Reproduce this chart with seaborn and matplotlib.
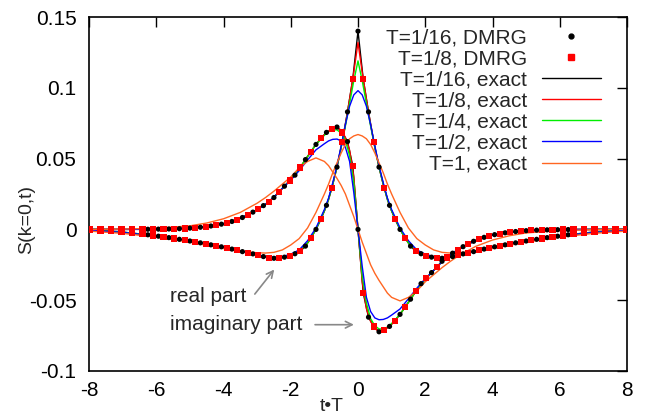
import numpy as np
import seaborn as sns
import matplotlib.pyplot as plt
from matplotlib.lines import Line2D

# low temperature curve (T=1/16), read on a grid of step 0.15625 in t*T
t_fine = np.arange(-51, 52) * 0.15625
re_fine = [-0.0005, -0.0007, -0.0009, -0.0011, -0.0013, -0.0016, -0.0019, -0.0022, -0.0026, -0.0030,
           -0.0034, -0.0038, -0.0043, -0.0048, -0.0053, -0.0058, -0.0064, -0.0070, -0.0076, -0.0082,
           -0.0088, -0.0095, -0.0102, -0.0109, -0.0116, -0.0123, -0.0131, -0.0139, -0.0148, -0.0157,
           -0.0165, -0.0173, -0.0182, -0.0192, -0.0200, -0.0204, -0.0202, -0.0196, -0.0186, -0.0172,
           -0.0155, -0.0118, -0.0063, 0.0, 0.0075, 0.017, 0.029, 0.044, 0.062, 0.083, 0.106,
           0.140,
           0.106, 0.083, 0.062, 0.044, 0.029, 0.017, 0.0075, 0.0, -0.0063, -0.0118,
           -0.0155, -0.0172, -0.0186, -0.0196, -0.0202, -0.0204, -0.0200, -0.0192, -0.0182, -0.0173,
           -0.0165, -0.0157, -0.0148, -0.0139, -0.0131, -0.0123, -0.0116, -0.0109, -0.0102, -0.0095,
           -0.0088, -0.0082, -0.0076, -0.0070, -0.0064, -0.0058, -0.0053, -0.0048, -0.0043, -0.0038,
           -0.0034, -0.0030, -0.0026, -0.0022, -0.0019, -0.0016, -0.0013, -0.0011, -0.0009, -0.0007, -0.0005]
im_fine = [0.0, 0.0, 0.0, 0.0, 0.0, 0.0, 0.0, 0.0, 0.0, 0.0,
           0.0, 0.0001, 0.0001, 0.0002, 0.0002, 0.0003, 0.0004, 0.0005, 0.0007, 0.0009,
           0.0012, 0.0015, 0.0019, 0.0024, 0.0030, 0.0037, 0.0046, 0.0056, 0.0068, 0.0084,
           0.0101, 0.0122, 0.0145, 0.0168, 0.0195, 0.0225, 0.0265, 0.0305, 0.0345, 0.0383,
           0.0437, 0.0493, 0.0547, 0.0600, 0.0645, 0.0685, 0.0708, 0.0723, 0.0685, 0.062, 0.045,
           0.0,
           -0.045, -0.062, -0.0685, -0.0723, -0.0708, -0.0685, -0.0645, -0.0600, -0.0547, -0.0493,
           -0.0437, -0.0383, -0.0345, -0.0305, -0.0265, -0.0225, -0.0195, -0.0168, -0.0145, -0.0122,
           -0.0101, -0.0084, -0.0068, -0.0056, -0.0046, -0.0037, -0.0030, -0.0024, -0.0019, -0.0015,
           -0.0012, -0.0009, -0.0007, -0.0005, -0.0004, -0.0003, -0.0002, -0.0002, -0.0001, -0.0001,
           0.0, 0.0, 0.0, 0.0, 0.0, 0.0, 0.0, 0.0, 0.0, 0.0, 0.0]

# exact curves for the higher temperatures
t_ex = [-8, -7, -6, -5, -4.5, -4, -3.5, -3, -2.75, -2.5, -2.25, -2, -1.75, -1.5, -1.25, -1,
        -0.875, -0.75, -0.625, -0.5, -0.375, -0.25, -0.125, 0, 0.125, 0.25, 0.375, 0.5, 0.625,
        0.75, 0.875, 1, 1.25, 1.5, 1.75, 2, 2.25, 2.5, 2.75, 3, 3.5, 4, 4.5, 5, 6, 7, 8]

re_8 = [-0.0005, -0.0020, -0.0046, -0.0082, -0.0103, -0.0126, -0.0153, -0.0180, -0.0195, -0.0204,
        -0.0198, -0.0183, -0.0158, -0.0096, 0.000, 0.013, 0.021, 0.032, 0.044, 0.058, 0.074, 0.092, 0.111,
        0.132,
        0.111, 0.092, 0.074, 0.058, 0.044, 0.032, 0.021, 0.013, 0.000, -0.0096, -0.0158, -0.0183,
        -0.0198, -0.0204, -0.0195, -0.0180, -0.0153, -0.0126, -0.0103, -0.0082, -0.0046, -0.0020, -0.0005]
im_8 = [0.0, 0.0, 0.0002, 0.0009, 0.0020, 0.0041, 0.0078, 0.0138, 0.0178, 0.0228, 0.029, 0.0352,
        0.0427, 0.0515, 0.060, 0.067, 0.0695, 0.0712, 0.0722, 0.070, 0.065, 0.056, 0.037,
        0.0,
        -0.037, -0.056, -0.065, -0.070, -0.0722, -0.0712, -0.0695, -0.067, -0.060, -0.0515, -0.0427,
        -0.0352, -0.029, -0.0228, -0.0178, -0.0138, -0.0078, -0.0041, -0.0020, -0.0009, -0.0002, 0.0, 0.0]

re_4 = [-0.0005, -0.0020, -0.0046, -0.0082, -0.0103, -0.0126, -0.0153, -0.0180, -0.0195, -0.0203,
        -0.0198, -0.0183, -0.0158, -0.0096, 0.000, 0.013, 0.021, 0.032, 0.044, 0.058, 0.073, 0.089, 0.105,
        0.119,
        0.105, 0.089, 0.073, 0.058, 0.044, 0.032, 0.021, 0.013, 0.000, -0.0096, -0.0158, -0.0183,
        -0.0198, -0.0203, -0.0195, -0.0180, -0.0153, -0.0126, -0.0103, -0.0082, -0.0046, -0.0020, -0.0005]
im_4 = [0.0, 0.0, 0.0002, 0.0009, 0.0020, 0.0041, 0.0078, 0.0138, 0.0178, 0.0228, 0.029, 0.0352,
        0.0427, 0.0515, 0.060, 0.0665, 0.069, 0.0703, 0.0703, 0.068, 0.063, 0.052, 0.033,
        0.0,
        -0.033, -0.052, -0.063, -0.068, -0.0703, -0.0703, -0.069, -0.0665, -0.060, -0.0515, -0.0427,
        -0.0352, -0.029, -0.0228, -0.0178, -0.0138, -0.0078, -0.0041, -0.0020, -0.0009, -0.0002, 0.0, 0.0]

re_2 = [-0.0006, -0.0021, -0.0047, -0.0083, -0.0104, -0.0127, -0.0154, -0.0180, -0.0192, -0.0197,
        -0.0192, -0.0175, -0.0145, -0.008, 0.001, 0.014, 0.022, 0.033, 0.045, 0.059, 0.074, 0.087, 0.095,
        0.098,
        0.095, 0.087, 0.074, 0.059, 0.045, 0.033, 0.022, 0.014, 0.001, -0.008, -0.0145, -0.0175,
        -0.0192, -0.0197, -0.0192, -0.0180, -0.0154, -0.0127, -0.0104, -0.0083, -0.0047, -0.0021, -0.0006]
im_2 = [0.0, 0.0, 0.0002, 0.0009, 0.0020, 0.0041, 0.0078, 0.0138, 0.0178, 0.0228, 0.029, 0.0348,
        0.0415, 0.049, 0.0562, 0.0605, 0.0625, 0.0636, 0.0638, 0.0625, 0.058, 0.048, 0.026,
        0.0,
        -0.026, -0.048, -0.058, -0.0625, -0.0638, -0.0636, -0.0625, -0.0605, -0.0562, -0.049, -0.0415,
        -0.0348, -0.029, -0.0228, -0.0178, -0.0138, -0.0078, -0.0041, -0.0020, -0.0009, -0.0002, 0.0, 0.0]

re_1 = [-0.0012, -0.0028, -0.0055, -0.0090, -0.0112, -0.0135, -0.0155, -0.0165, -0.0167, -0.0162,
        -0.0145, -0.011, -0.0065, 0.001, 0.012, 0.025, 0.032, 0.040, 0.047, 0.054, 0.060, 0.064, 0.066,
        0.067,
        0.066, 0.064, 0.060, 0.054, 0.047, 0.040, 0.032, 0.025, 0.012, 0.001, -0.0065, -0.011,
        -0.0145, -0.0162, -0.0167, -0.0165, -0.0155, -0.0135, -0.0112, -0.0090, -0.0055, -0.0028, -0.0012]
im_1 = [0.0, 0.0002, 0.0008, 0.0025, 0.0045, 0.0075, 0.012, 0.0185, 0.0225, 0.027, 0.032, 0.037,
        0.0435, 0.048, 0.0505, 0.048, 0.045, 0.0405, 0.036, 0.031, 0.025, 0.017, 0.009,
        0.0,
        -0.009, -0.017, -0.025, -0.031, -0.036, -0.0405, -0.045, -0.048, -0.0505, -0.048, -0.0435,
        -0.037, -0.032, -0.027, -0.0225, -0.0185, -0.012, -0.0075, -0.0045, -0.0025, -0.0008, -0.0002, 0.0]

labels = ["T=1/16, DMRG", "T=1/8, DMRG", "T=1/16, exact", "T=1/8, exact",
          "T=1/4, exact", "T=1/2, exact", "T=1, exact"]
colors = ["black", "red", "black", "red", "#00ee00", "blue", "#ff6622"]

sns.set_theme(style="white")
plt.rcParams['font.family'] = ['Liberation Sans', 'DejaVu Sans']
plt.rcParams['axes.unicode_minus'] = False

fig = plt.figure(figsize=(6.47, 4.15), dpi=100)
ax = fig.add_axes([89 / 647, 1 - 371 / 415, 538 / 647, 354 / 415])

# DMRG points: T=1/16 on every 2nd grid point up to |tT|=6.25, T=1/8 on the others
k = np.arange(-51, 52)
t_fine = np.asarray(t_fine)
re_arr, im_arr = np.asarray(re_fine), np.asarray(im_fine)
blk = (k % 2 == 0) & (np.abs(k) <= 40)
red = k % 2 != 0

for yv in (re_arr, im_arr):
    sns.scatterplot(x=t_fine[blk], y=yv[blk], color="black", marker="o", s=14,
                    edgecolor="none", ax=ax, zorder=5)
    sns.scatterplot(x=t_fine[red], y=yv[red], color="red", marker="s", s=20,
                    edgecolor="none", ax=ax, zorder=5)

sns.lineplot(x=t_fine, y=re_arr, color="black", lw=1.0, sort=False, estimator=None, ax=ax)
sns.lineplot(x=t_fine, y=im_arr, color="black", lw=1.0, sort=False, estimator=None, ax=ax)
for (re_c, im_c), col in zip([(re_8, im_8), (re_4, im_4), (re_2, im_2), (re_1, im_1)], colors[3:]):
    sns.lineplot(x=t_ex, y=re_c, color=col, lw=1.0, sort=False, estimator=None, ax=ax)
    sns.lineplot(x=t_ex, y=im_c, color=col, lw=1.0, sort=False, estimator=None, ax=ax)

ax.set_xlim(-8, 8)
ax.set_ylim(-0.1, 0.15)
ax.set_xticks(np.arange(-8, 9, 2))
ax.set_yticks([-0.1, -0.05, 0, 0.05, 0.1, 0.15])
ax.set_yticklabels(["-0.1", "-0.05", "0", "0.05", "0.1", "0.15"])
ax.set_xticklabels([str(v) for v in range(-8, 9, 2)])
ax.tick_params(direction="in", length=7, width=1, top=True, right=True,
               labelsize=15, colors="black")
ax.tick_params(axis="y", pad=9)
ax.tick_params(axis="x", pad=7)
for sp in ax.spines.values():
    sp.set_color("black")
    sp.set_linewidth(1.2)

ax.set_xlabel("t\u2022T", fontsize=14)
ax.xaxis.set_label_coords(0.452, -0.075)
ax.set_ylabel("S(k=0,t)", fontsize=14)
ax.yaxis.set_label_coords(-0.10, 0.427)

ax.text(-5.6, -0.0474, "real part", fontsize=15, ha="left", va="center")
ax.text(-5.6, -0.0671, "imaginary part", fontsize=15, ha="left", va="center")
ax.annotate("", xy=(-2.44, -0.0268), xytext=(-3.12, -0.0472),
            arrowprops=dict(arrowstyle="->", color="#888888", lw=1.2))
ax.annotate("", xy=(-0.04, -0.0673), xytext=(-1.36, -0.0673),
            arrowprops=dict(arrowstyle="->", color="#888888", lw=1.2))

handles = [Line2D([], [], ls="none", marker="o", ms=3.5, color="black"),
           Line2D([], [], ls="none", marker="s", ms=4, color="red")]
handles += [Line2D([], [], color=c, lw=1.0) for c in colors[2:]]
ax.legend(handles, labels, loc="upper right", bbox_to_anchor=(0.952, 0.968),
          markerfirst=False, frameon=False, fontsize=15, handlelength=2.85,
          handletextpad=0.7, labelspacing=0.1, borderaxespad=0, borderpad=0)

fig.savefig("out.png", dpi=100)
